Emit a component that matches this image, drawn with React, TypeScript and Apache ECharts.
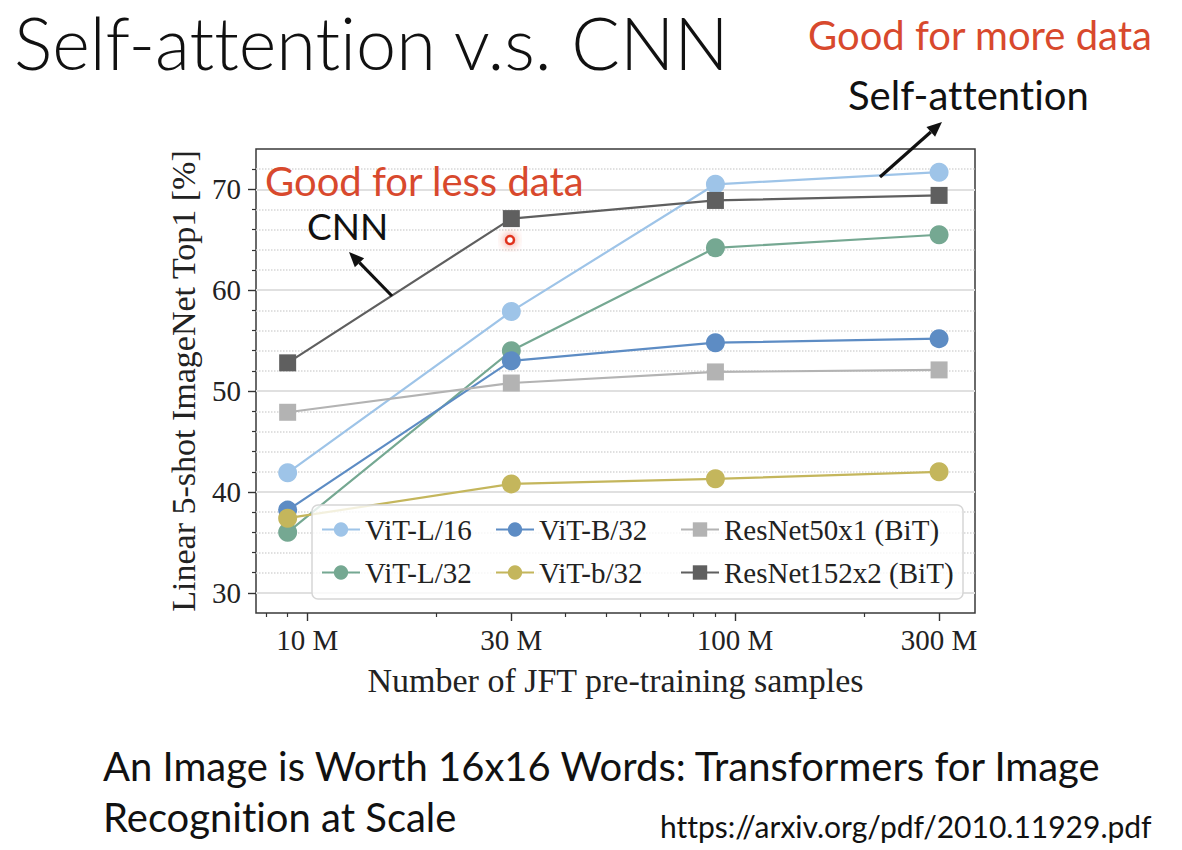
import React, { useEffect, useRef } from "react";
import * as echarts from "echarts";

// ---- data ----
const samples = [9e6, 3e7, 9e7, 3e8];
const xTickValues = [1e7, 3e7, 1e8, 3e8];
const xMinorTickValues = [8e6, 9e6, 2e7, 4e7, 5e7, 6e7, 7e7, 8e7, 9e7, 2e8];
const yTickValues = [30, 40, 50, 60, 70];
const yMinorTickValues = [32, 34, 36, 38, 42, 44, 46, 48, 52, 54, 56, 58, 62, 64, 66, 68, 72];

const seriesNames = [
  "ViT-L/16",
  "ViT-L/32",
  "ViT-B/32",
  "ViT-b/32",
  "ResNet50x1 (BiT)",
  "ResNet152x2 (BiT)",
];
const vitL16 = [41.9, 57.9, 70.5, 71.7];
const vitL32 = [36.0, 54.0, 64.2, 65.5];
const vitB32 = [38.2, 53.0, 54.8, 55.2];
const vitb32 = [37.4, 40.8, 41.3, 42.0];
const resnet50 = [47.9, 50.8, 51.9, 52.1];
const resnet152 = [52.8, 67.1, 68.9, 69.4];
const seriesValues = [vitL16, vitL32, vitB32, vitb32, resnet50, resnet152];

const seriesColors = ["#9ec4e8", "#75a892", "#5d8cc4", "#c4b65c", "#b3b3b3", "#5f5f5f"];
const seriesSymbols = ["circle", "circle", "circle", "circle", "rect", "rect"];

const serif = "'Liberation Serif', 'Times New Roman', serif";
const sans = "Lato, 'Open Sans', sans-serif";
const red = "#d8492d";

function arrow(tail: number[], tip: number[], color: string) {
  const dx = tip[0] - tail[0];
  const dy = tip[1] - tail[1];
  const len = Math.sqrt(dx * dx + dy * dy);
  const ux = dx / len;
  const uy = dy / len;
  const hl = 15;
  const hw = 6.5;
  const bx = tip[0] - ux * hl;
  const by = tip[1] - uy * hl;
  const px = -uy;
  const py = ux;
  return [
    {
      type: "line",
      z: 10,
      shape: { x1: tail[0], y1: tail[1], x2: bx, y2: by },
      style: { stroke: color, lineWidth: 3.2 },
    },
    {
      type: "polygon",
      z: 10,
      shape: {
        points: [
          [tip[0], tip[1]],
          [bx + px * hw, by + py * hw],
          [bx - px * hw, by - py * hw],
        ],
      },
      style: { fill: color },
    },
  ];
}

function label(text: string, x: number, y: number, size: number, color: string, weight: any = "normal") {
  return {
    type: "text",
    x,
    y,
    z: 10,
    style: {
      text,
      fill: color,
      fontFamily: sans,
      fontSize: size,
      fontWeight: weight,
      lineHeight: size,
      align: "left",
      textAlign: "left",
      verticalAlign: "middle",
      textVerticalAlign: "middle",
    },
  };
}

export default function App() {
  const ref = useRef<HTMLDivElement>(null);

  useEffect(() => {
    if (!ref.current) return;
    const chart = echarts.init(ref.current, null, { renderer: "svg" });

    const axisText = { fontFamily: serif, fontSize: 29, color: "#222" };

    const series = seriesNames.map((name, i) => ({
      name,
      type: "line",
      xAxisIndex: 0,
      yAxisIndex: 0,
      data: samples.map((s, j) => [s, seriesValues[i][j]]),
      symbol: seriesSymbols[i],
      symbolSize: seriesSymbols[i] === "rect" ? 17 : 19,
      showSymbol: true,
      lineStyle: { color: seriesColors[i], width: 2.2 },
      itemStyle: { color: seriesColors[i] },
      emphasis: { disabled: true },
      z: 2 + i * 0.01,
    }));

    const legendCommon = {
      orient: "vertical",
      itemGap: 14,
      itemWidth: 38,
      itemHeight: 18,
      padding: 0,
      textStyle: { fontFamily: serif, fontSize: 29, color: "#222" },
      selectedMode: false,
      z: 6,
    };

    const option: any = {
      animation: false,
      backgroundColor: "#ffffff",
      grid: {
        left: 256,
        top: 149,
        width: 719,
        height: 464,
        show: true,
        borderColor: "#3a3a3a",
        borderWidth: 1.5,
        backgroundColor: "transparent",
      },
      xAxis: [
        {
          type: "log",
          logBase: 10,
          min: 7.59e6,
          max: 3.64e8,
          position: "bottom",
          axisLine: { show: false },
          axisTick: {
            show: true,
            length: 8,
            customValues: xTickValues,
            lineStyle: { color: "#333", width: 1.4 },
          },
          axisLabel: {
            customValues: xTickValues,
            formatter: (v: number) => `${Math.round(v / 1e6)} M`,
            margin: 12,
            ...axisText,
          },
          splitLine: { show: false },
          minorTick: { show: false },
          name: "Number of JFT pre-training samples",
          nameLocation: "middle",
          nameGap: 50,
          nameTextStyle: { fontFamily: serif, fontSize: 34, color: "#222" },
        },
        {
          type: "log",
          logBase: 10,
          min: 7.59e6,
          max: 3.64e8,
          position: "bottom",
          axisLine: { show: false },
          axisTick: {
            show: true,
            length: 4,
            customValues: xMinorTickValues,
            lineStyle: { color: "#333", width: 1.2 },
          },
          axisLabel: { show: false },
          splitLine: { show: false },
        },
      ],
      yAxis: [
        {
          type: "value",
          min: 28,
          max: 74,
          position: "left",
          axisLine: { show: false },
          axisTick: {
            show: true,
            length: 8,
            customValues: yTickValues,
            lineStyle: { color: "#333", width: 1.4 },
          },
          axisLabel: { customValues: yTickValues, margin: 15, ...axisText },
          splitLine: { show: true, lineStyle: { color: "#e0e0e0", width: 1.8 } },
          name: "Linear 5-shot ImageNet Top1 [%]",
          nameLocation: "middle",
          nameGap: 56,
          nameTextStyle: { fontFamily: serif, fontSize: 34, color: "#222" },
        },
        {
          type: "value",
          min: 28,
          max: 74,
          position: "left",
          axisLine: { show: false },
          axisTick: {
            show: true,
            length: 4,
            customValues: yMinorTickValues,
            lineStyle: { color: "#333", width: 1.2 },
          },
          axisLabel: { show: false },
          splitLine: {
            show: true,
            lineStyle: { color: "#d6d6d6", width: 1.5, type: "dotted" },
          },
        },
      ],
      legend: [
        { ...legendCommon, data: [seriesNames[0], seriesNames[1]], left: 321, top: 515 },
        { ...legendCommon, data: [seriesNames[2], seriesNames[3]], left: 495, top: 515 },
        { ...legendCommon, data: [seriesNames[4], seriesNames[5]], left: 680, top: 515 },
      ],
      series,
      graphic: [
        {
          type: "rect",
          z: 3,
          shape: { x: 312, y: 505, width: 651, height: 94, r: 6 },
          style: { fill: "rgba(255,255,255,0.8)", stroke: "#d6d6d6", lineWidth: 1.5 },
        },
        label("Self-attention v.s. CNN", 14, 42, 72, "#111", 300),
        label("Good for more data", 808, 35, 40, red),
        label("Self-attention", 848, 95, 40, "#111"),
        label("Good for less data", 265, 181, 40, red),
        label("CNN", 307, 225, 37, "#111"),
        ...arrow([880, 177], [942, 122], "#111"),
        ...arrow([392, 296], [349, 252], "#111"),
        {
          type: "circle",
          z: 10,
          shape: { cx: 510, cy: 240, r: 4 },
          style: {
            fill: "#fff",
            stroke: "#e0321c",
            lineWidth: 2.5,
            shadowBlur: 10,
            shadowColor: "rgba(230,60,40,0.8)",
          },
        },
        label("An Image is Worth 16x16 Words: Transformers for Image", 103, 766, 40, "#111"),
        label("Recognition at Scale", 103, 817, 40, "#111"),
        label("https://arxiv.org/pdf/2010.11929.pdf", 660, 826, 30, "#111"),
      ],
    };

    chart.setOption(option);
    return () => chart.dispose();
  }, []);

  return (
    <div
      ref={ref}
      style={{
        position: "fixed",
        left: 0,
        top: 0,
        width: 1182,
        height: 850,
        background: "#fff",
        fontVariantLigatures: "none",
      }}
    />
  );
}
